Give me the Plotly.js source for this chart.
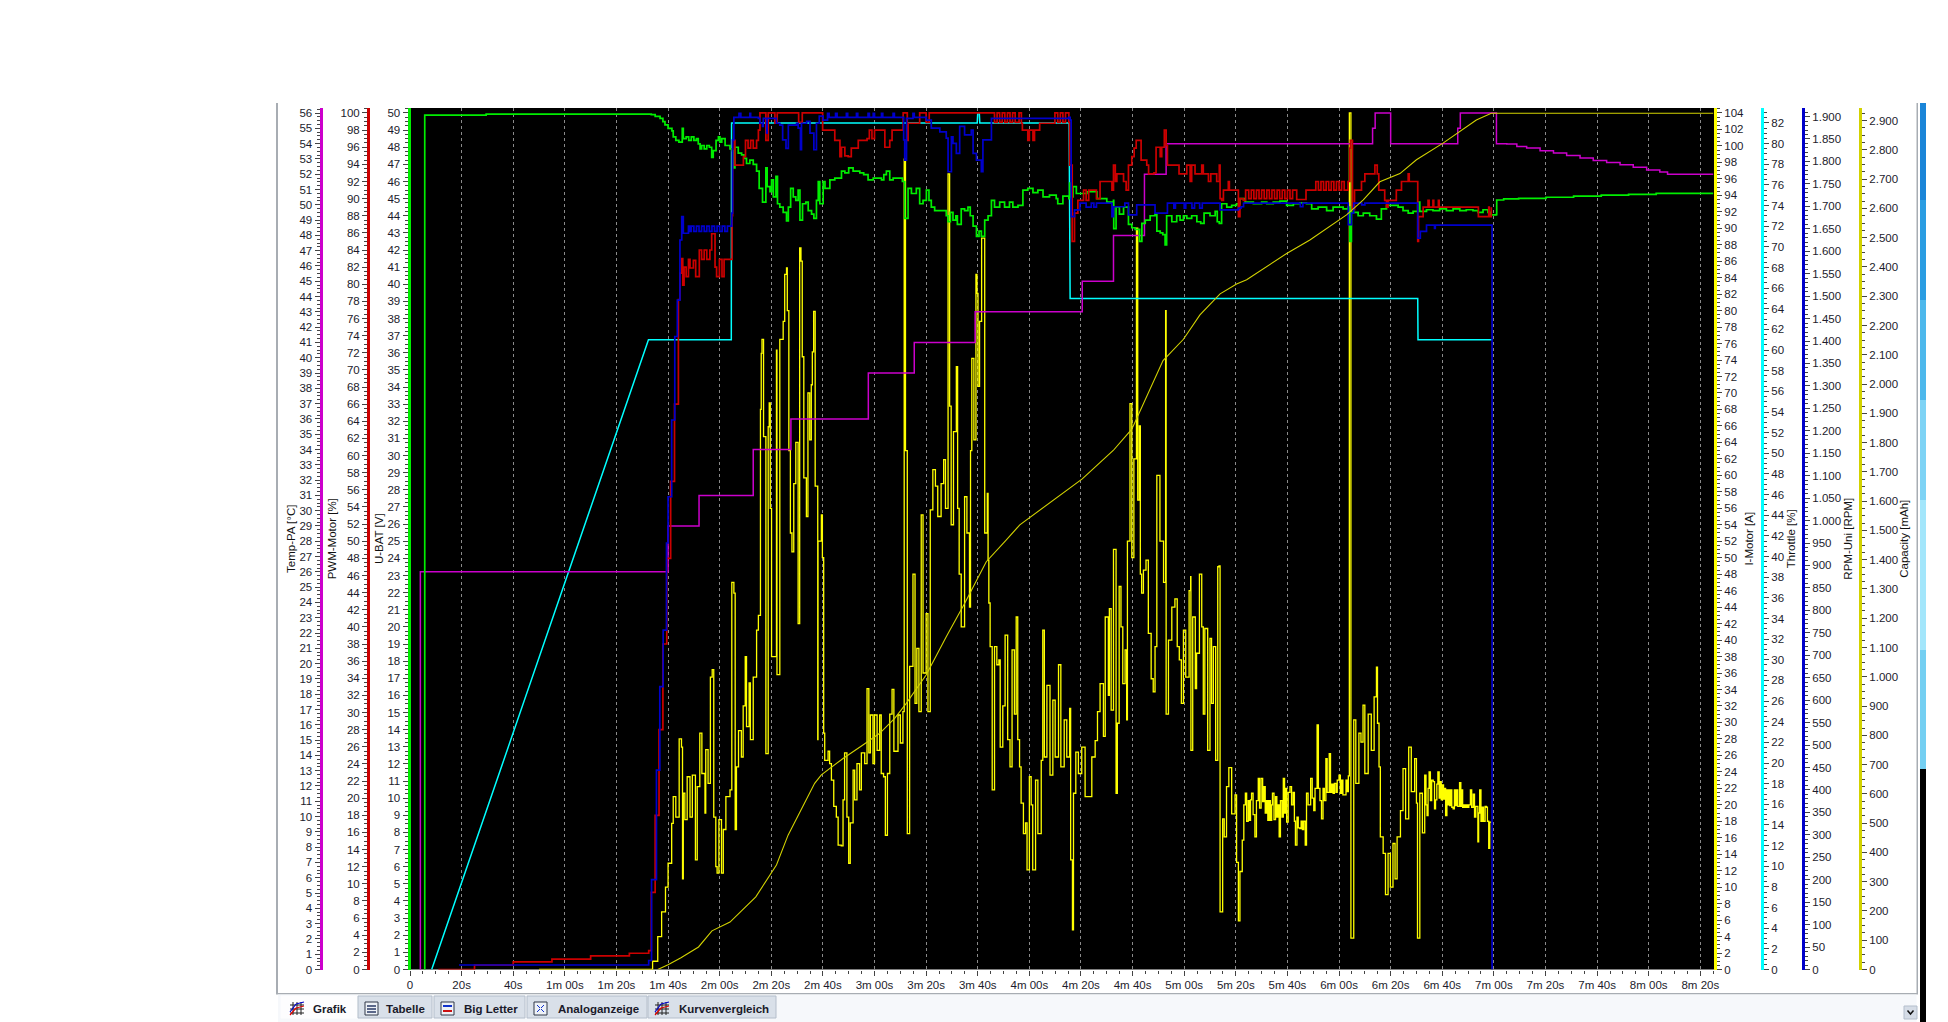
<!DOCTYPE html>
<html><head><meta charset="utf-8">
<script src="https://cdn.plot.ly/plotly-3.0.1.min.js"></script>
<style>html,body{margin:0;padding:0;background:#fff;overflow:hidden}#c{width:1948px;height:1022px}</style>
</head><body><div id="c"></div>
<script>
// ---- values ----
const tempT=[4,4.01,100,112,133,147.6,177.6,195.4,219,260.5,272.6,284.6,293,373,374,380,406,407,421,425,428.9,432.7,437.9,443.1,448.2,453.4,458.5,463.7,468.9,474,479.2,484.3,487.3,505];
const tempV=[0,26,29,31,34,36,39,41,43,45,48,52,54,55,56,54,55,56,54,53.97,53.82,53.71,53.53,53.38,53.23,53.06,52.9,52.77,52.62,52.45,52.27,52.14,52,52];

const throttleT=[8.4,92.4,124.5,124.6,219.8,220,220.6,220.8,255.4,255.8,390.5,390.6,419.5];
const throttleV=[0,61,61,82,82,83,83,82,82,65,65,61,61];

const capT=[96,100,105,111.8,117,124,134,138.8,142,146.5,152.3,156.8,159.4,167.8,175.5,182,187.8,192.3,200,207.8,214.9,223.3,231,236.3,260.5,272.5,279.7,291.8,299.7,306.1,313.9,320.3,324.2,339.7,348.7,362.9,369.4,375.8,383.6,390,400.3,405.5,413.2,419,505];
const capV=[0,16,40,77,132,162,248,315,357,459,556,636,665,721,767,807,858,909,1006,1137,1250,1393,1467,1519,1676,1773,1846,2080,2153,2236,2308,2342,2356,2446,2492,2578,2629,2691,2719,2766,2823,2856,2902,2925,2925];

const batT=[5.7,5.71,29.5,93.5,95,96.9,98,98.8,100,101.5,102,103,104.2,105.5,105.9,107,108,109,110,111,111.7,112.4,113,114,115,116,116.9,117.5,118.6,119.5,120.1,120.8,122.1,124,124.9,125.5,125.9,127.2,128.5,129.4,130.4,131.7,133,134.3,135.3,136.6,137.9,138.4,139.5,140.1,140.8,141.8,142.4,143.3,144.6,145.9,146.6,147.5,148.5,149.5,150.4,151.1,152.1,153.4,154.3,155.6,156.5,157.5,158.2,158.8,160.1,160.8,162.7,164.6,167.2,168.5,170,171.7,174.3,175.8,177.5,179.5,182.7,183.6,184.6,185.9,187.2,190.8,191.7,193,194.3,196.2,197.5,198.8,200.1,201.1,202,203.3,205.9,207.8,208.5,209.4,210.4,211.5,212.1,213.6,214.9,216.2,217.1,218.2,219.5,220.5,221.4,222.7,224,225.3,226.5,228.5,230.4,232.3,233.6,235.6,237.5,239.4,241.4,243.3,245.3,247.8,250.4,251,253,255.3,255.6,256.2,256.9,258.2,259.7,262.3,266.2,268.1,270,272.6,272.7,273.6,274.9,276.5,278.4,279.7,281,282.7,283.6,284.9,286.8,288.7,289.4,290.7,291.7,292.6,293.2,295.2,297.1,298.4,299.7,301,302.9,304.9,306.4,307.7,310,312,312.8,313.6,314.5,316.5,318.4,320.3,321.6,323.6,326.8,330,332,334.5,337.1,339.7,342.3,344.8,347.4,349.4,351.9,355.2,357.7,361.6,363.5,364.2,364.8,367.4,369.4,371.9,374.5,376.4,378.4,381,382.9,384.8,386.8,388.7,390.5,391.3,393.9,396.4,399,401.6,404.2,406.8,409.3,411.9,413.9,415.8,417.7,418.6,421,421.1,423.8,429.6,440.2,450.9,461.6,472.2,482.9,505];
const batV=[0,49.87,49.93,49.9,49.8,49.69,49.5,49.3,49.1,48.95,48.6,48.4,48.3,49.1,48.5,48.6,48.4,48.6,48.4,48.5,48.2,47.9,48.1,47.9,48.1,48,47.4,47.8,48.4,48.6,48.3,48.5,48.1,47.9,47.8,46.8,48,47.65,47.55,47.35,47.05,47.25,47,46.6,45.6,44.8,46.8,45.7,45.4,46.1,45.1,46.3,44.7,44.5,44.2,43.7,44.5,45.6,45.1,44.9,45.5,43.75,44.7,44.8,44.3,44.1,43.85,44.9,46,44.7,46,45.6,46.1,46.2,46.6,46.5,46.8,46.6,46.5,46.4,46.1,46.2,46.1,46.4,46.6,46.1,46.2,46,43.85,45.6,45.3,45.6,44.7,44.9,45.5,44.9,44.5,44.3,44.3,44,43.65,44.2,43.75,44,43.5,44.4,44.3,44.5,44,43.4,42.8,43.1,42.8,43.75,44,44.9,44.5,44.8,44.5,44.8,44.5,44.6,45.5,45.6,45.35,45.5,45.1,45.2,45,44.7,45.15,45,45.9,45.1,45.7,45.3,45.3,45.4,45,45,44.8,44.9,43.25,44.5,44.1,44.5,43.5,43.3,43.2,42.5,43.55,43.75,44,44.1,43.1,43,42.9,42.3,44,43.65,44,43.75,44,43.85,44,43.65,43.55,44.15,44,44.25,43.65,43.55,44.7,44.5,44.6,44.7,45,44.8,44.7,44.8,44.7,44.8,44.85,44.6,44.7,44.75,44.7,44.4,44.5,44.3,44.5,44.4,44.5,42.5,44.2,44,44.15,44,43.8,44.4,44.6,44.6,44.5,44.3,44.15,44.25,44.8,44.25,44.35,44.3,44.4,44.3,44.4,44.3,44.35,44.3,44.2,44.35,44.2,44.05,44.08,44.92,44.98,45.02,45.08,45.14,45.2,45.25,45.31,45.31];

const pwmT=[11,25,40,55,70,85,92.5,93.5,95,96.5,98,99.5,101,102.5,104,104.6,105.3,105.7,106.2,107,107.9,108.5,109.8,110.7,112.1,113,114,115,116.2,116.9,118.2,118.8,119.9,120.9,121.7,124.5,124.8,125,125.9,129.2,130,131,132,133,134.3,135,135.6,137.9,138.8,141.4,142.3,150.4,150.6,152,159,159.9,163.3,164.6,166.6,167.2,168.5,169.8,171,173.7,177.1,178,179,180,182,184,185.9,186.8,190.8,191.1,192.6,192.7,193,197.3,197.5,199.7,200,201.1,201.2,225.9,226.5,227.5,228.5,229.5,230.5,231.5,232.5,233.5,234.5,236,236.9,237.3,239.4,240,241.4,242,244,249.5,249.9,251,252,253,254,255.3,255.6,256.6,257.5,258.8,261,262,263,264.2,266,267.4,271.3,272,272.6,273.3,273.9,275.8,276.5,277.5,278.4,279.7,280.6,281.4,282.7,283.3,285.5,286.2,288.3,289.1,290.7,291.3,292.3,293,293.5,297.8,298,300.3,301,302.3,302.9,304.2,306.8,307.4,309.4,310.3,312,312.6,313.6,313.9,314.5,315.2,317.1,317.5,320.3,321,321.6,322.9,323.8,325,326,327,328,329,330,331,332,333,334,335,336,337,338,339,340,341,342,343.6,346.4,347.2,350,351,352,353,354,355,356,357,358,359,360,361,362,363.5,364.2,364.4,365.2,366,366.8,368.7,370,371.9,373.9,374.8,375.4,377.7,378.4,379,381.6,382.2,384.2,386.8,387.2,390.4,390.5,390.8,392.6,394.5,394.9,396.4,396.7,398.5,398.8,413.8,414,418,418.2,419];
const pwmV=[0,0.5,0.9,1.2,1.6,1.9,2.2,9,18,28,38,48,57,66,78.2,81.3,83,79.9,82,80.9,82.9,81.9,82.8,80.9,84,82.9,84,82.9,84,85.9,82,80.9,82.9,80.9,82.9,82.9,88,96.8,93.9,94.9,96.8,95.9,96.8,95.9,96.8,98,100,96.8,100,98.8,100,100,98.9,100,100,98,98,96.8,94.9,96,95,94.9,95.9,96.8,97,98,97,98,98,96,96.8,98,98,100,100,96.8,98.8,98.8,100,100,98.9,98.9,100,100,98.9,100,98.9,100,98.9,100,98.9,100,98.9,100,98.8,98,96.8,98,96.8,98,98.8,98.8,100,98.9,100,98.9,100,98.9,93.9,85,88.3,89.8,91,89.8,91,91,90,92,92,91,93.9,92,92.9,92.9,92,91,93.9,94.9,95.9,96.8,96.8,94.5,93.9,92.9,93,96,94.9,96,98,96.2,93.9,93.9,92.9,92.9,93.9,92,93.9,92.9,93.9,92.9,92,92.9,92.9,92,93.9,90,89.8,91,92,91,91,87.9,90,89.8,91,90,91,90,91,90,91,90,91,90,91,90,91,90,91,90,91,90,91,89.9,89.9,91,91,92,91,92,91,92,91,92,91,92,91,92,91,92,95.9,96.8,88.7,91,91,92,92.9,92.9,93.9,92.9,91,89.8,89,89.8,89.8,91,92,92.9,92,92,85,87.9,89,89.8,89,89.8,89,89.8,89,89,87.9,89,87.9,89];

const rpmPts=[[19,10],[92.5,20],[93.6,200],[95.5,444],[96.8,630],[98.1,756],[99.4,950],[100,1053],[101.4,1224],[102.6,1410],[103.6,1491],[104.6,1625],[105.3,1677],[105.9,1640],[107.9,1656],[108.5,1644],[109,1656],[110,1644],[111,1656],[112,1644],[113,1656],[114,1644],[115,1656],[116,1644],[117,1656],[118,1644],[119,1656],[120,1644],[121,1656],[122,1644],[123,1656],[124.5,1656],[124.7,1685],[125,1848],[125.5,1898],[127.5,1907],[128.2,1898],[131.7,1907],[132,1898],[135,1896],[135.6,1885],[136.6,1878],[136.9,1896],[138.2,1863],[138.4,1896],[141.4,1896],[142,1885],[143.3,1881],[144.4,1848],[145.7,1829],[146.6,1881],[149.8,1885],[150.4,1874],[151.3,1826],[151.7,1885],[153.7,1889],[155,1863],[156.5,1826],[157.5,1885],[158.6,1901],[160.1,1892],[161.8,1907],[162.4,1898],[164.9,1907],[165.5,1898],[169.1,1907],[169.6,1898],[173,1907],[173.5,1898],[177.5,1907],[178,1898],[179.5,1907],[180,1898],[182.7,1907],[183.2,1898],[187.2,1907],[187.7,1898],[190.8,1898],[191.3,1848],[191.7,1803],[192.4,1896],[194.9,1907],[195.4,1898],[200.1,1892],[202,1874],[205.3,1866],[207.8,1852],[208.5,1777],[209.8,1855],[210.4,1840],[211.7,1818],[213,1878],[214.9,1859],[217.5,1870],[218.2,1818],[219.5,1803],[221.4,1777],[222,1848],[224,1848],[225.3,1896],[255.3,1898],[255.8,1892],[256.2,1677],[257.5,1692],[259.6,1707],[262,1698],[264,1707],[265,1698],[266,1707],[272,1677],[272.6,1699],[277,1707],[278.4,1681],[281.6,1703],[288.7,1685],[293.5,1707],[296,1696],[296.6,1707],[300,1696],[300.6,1707],[303,1696],[304,1707],[306,1696],[307,1707],[310,1707],[313.9,1692],[321,1696],[322,1699],[323,1707],[345,1699],[346,1707],[363.5,1707],[363.6,1659],[364.8,1685],[365.7,1707],[368.8,1703],[370,1707],[390.4,1707],[390.5,1629],[391.5,1644],[393.9,1658],[397,1651],[397.3,1658],[419,1658],[419.3,0]];

const curHeadT=[50,92.5,94,96,97.5,99,100,101.4,102,103,104.3,105.2,105.6,105.9,106.5,107.4,108.5,109.4,110.6,111.3,112.3,113.1,114.3,114.6,115.5,116.4,117.1,117.7,118.5,119,119.7,120.7,121.4,122.4,124,124.7,125.5,126,126.5,127.3,128.4,129.1,129.9,130.4,131.4,131.9,133,134.3,135,135.8,136.1,136.4,137,137.9,138.8,139.2,139.6,140.1,142,142.2,143.3,144.6,145.2,145.9,146.2,146.8,147.4,148,148.7,149.5,150.4,151,151.5,152,152.6,153.6,154.2,154.9,155.5,155.9,156.4,157,158,158.1,159.4,159.8,160.3,160.7,162,162.6,163.3,164.2,165.2,165.9,167.1,167.8,168.4,169.3,170,170.6,171.7,172.3,173.2,174.2,174.9,176.2,177.1,177.8,178.4,179.4,180,181,182,182.6,183.5,184.2,185,185.9,186.8,187.5,189.1,190,191,191.5,192,192.7,193.6,194.9,195.7,196.4,197.2,198.1,198.8,200,200.7,201.6,202.6,203.6,204.5,205.8,206.8,207.5,208.5,209.1,209.7,210.6,211.7,212.2,212.8,213.6,214.9,215.8,216.8,217.2,217.7,218.5,219.3,219.7,220.1,220.7,221.5,222.7,223.7,224,224.3,224.8,225.6,226.5,227.4,228.2,228.7,229.7,230.6,231.6,232.5,233.3,234.2,234.9,235.5,236.2,236.8,237.7,238.5,239.1,240,240.7,241.3,242.4,243.3,244.6,245.2,245.8,246.8,248,249.1,250,251.3,252.2,253.5,254.5,255.6,256,256.7,257.1,258,259,260.3,261.6,263.3,264.2,265.5,266.4,267.4,268.7,269.4,270.6,271,271.7,272.6,273.6,274.1,274.8,275.5,276.2,277.1,277.7,278,279,279.7,280.5,281.5,282,282.6,283,283.5,284.2,285.2,286.1,287.2,288,288.7,289.4,290.6,292,292.8,293,293.9,295.2,296.4,297.3,298.1,298.9,299.7,300.6,301.9,302.5,302.6,303.3,304.3,304.8,305.9,306.8,307.4,308,309.1,310,310.6,311.3,312.2,313,313.5,313.9,314.9,315.5,316.4,317.3,318.4,319.7,320.3,321,321.6];
const curHeadA=[0,0,1,4,7,10,12.9,17.75,21,18.5,28,27,11,21.4,18.2,23.4,18.5,23.6,13.3,22.2,28.7,23.8,19,26.7,22.6,35.5,36.4,18.5,12.5,11.7,18.2,11.7,17,21,21.8,47,45.7,17,24.6,29,25.8,32,38,29.5,34.8,27.9,35.5,41.2,43,68,74.8,76.5,64.7,26.2,65.9,68.8,56,38,75.2,35.8,76.5,78.7,84.4,85.2,80,63,53,50.7,59,64,42,87.6,86,74.4,59.7,55,70,64.3,71,75,79.9,58.7,27.9,52,55.2,50,28.7,25.4,26.5,25,23,19.8,18.5,15.1,15,20.6,26.3,18.5,12.9,17.8,24.2,20.6,25,21.8,26.3,25,34.1,26.3,30.9,25,30.9,26.6,30.9,23.8,23.4,16.3,23.8,31,34,26.5,30.9,27.5,31.3,98.4,63,16.5,36.8,48,32.3,39,31.3,55.2,36,43.2,31.3,55.8,60.7,58.7,55,59,61.9,56,96.6,68.4,54,65.3,73.2,56,48,41.6,57.4,53,44,63,74.2,64.3,84.4,82.1,70.8,78.7,88.8,53,57.8,49.7,44.5,39.2,21.8,39.2,37,37.6,27,32,40.6,27.9,24.6,38.8,31,42.8,27.9,24.6,20.2,16.5,17.8,12.1,23.4,20,12.1,23,16.5,25.4,41.2,25.8,34.5,23.6,32.7,25.8,37,24.6,30.3,25.8,31.7,13.3,4.8,21.4,26.4,23.8,27,21,21,25.8,27.8,31.3,34.7,28.3,42.8,33.3,43.8,31.5,51,21.4,29.9,46.5,41.6,34.7,38.8,30.3,52,68.7,50,62,90,57,66,48,45.7,48.5,49.7,40.8,35.3,33.7,39.2,60,52,47,80,31,40,44,45,39.2,37.6,32.3,41.2,35.5,46,47.7,26.6,42.8,34.1,38.4,48,41.6,31,41.4,26.6,40.2,32.3,39.2,25.4,48.9,49,7,18.3,16.1,22.2,24.5,18.9,21.2,13,5.9,11.9];
const curBandA=[[322.5,15.7],[323.1,20],[323.7,21.4],[324.2,18],[324.8,20.5],[325.2,18.1],[325.7,20.6],[326.1,21.4],[326.7,18.8],[327.4,16.1],[328,20.5],[328.7,23.2],[329.2,19.6],[329.8,23.2],[330.4,20.4],[330.9,22.2],[331.4,19],[331.9,20.5],[332.4,18.1],[332.9,20.5],[333.4,18.1],[333.9,20],[334.2,21.4],[334.8,18.2],[335.4,21],[335.9,18.5],[336.4,20],[336.8,16.1],[337.3,20.5],[337.9,18.5],[338.4,23.2],[338.9,19],[339.3,22],[339.7,17.9],[340.3,21.5],[341,22.2],[341.6,20],[342.2,21.5],[342.7,18],[343.1,15.1],[343.7,18.5],[344.2,17.2],[344.8,17.1],[345.3,18],[345.8,17],[346.3,18],[346.9,15.1],[347.4,21.4],[348,20],[349,23.2],[349.6,20.8],[350.2,19.3],[350.7,22],[351.5,29.7],[352,22],[352.6,20.5],[353.2,18.3],[353.8,22],[354.3,20.5],[354.9,25.6],[355.4,21.5],[356.2,26.2],[356.7,21.5],[357.2,22.5],[357.7,21.4],[358.2,22.6],[358.8,21.5],[359.3,23],[360,23.6],[360.5,21.4],[361,23],[361.5,21.2],[362.2,21.2],[362.7,23],[363.2,21.6],[363.6,23.5]];
const curMidT=[364,364.6,365.7,366.5,367.7,368.5,369.3,370,371.3,372.5,373.6,374.5,374.9,375.5,376,377.1,378,379,379.9,380.9,381.7,382.5,383.8,384.8,385.8,387,388,389.3,390,390.4,391.3,392.3];
const curMidA=[104,3.8,30.3,22.6,28.7,27.6,32.1,23.8,31,26.6,33.1,36.7,29.9,24.6,16.1,14.1,9.1,14.1,10,15.3,11,16.1,19.3,24.4,18.3,27,21.6,25.6,20.2,3.8,21.4,16.6];
const curBandB=[[393.2,23.6],[393.7,20],[394.1,18.7],[394.5,22],[394.9,24],[395.4,20.5],[395.9,23],[396.5,22.8],[397,19.5],[397.4,20.6],[397.9,22.5],[398.3,24],[398.8,20.8],[399.2,22.8],[399.6,20.6],[400.1,22.4],[400.5,20.7],[401,22],[401.3,18.7],[401.8,21.8],[402.2,20],[402.5,21.8],[402.9,19.9],[403.3,21.8],[403.7,19.7],[404.2,19.5],[404.7,21.8],[405.1,19.9],[405.5,21.8],[406,19.8],[406.7,22.7],[407.2,19.8],[407.6,21.8],[407.9,19.7],[408.4,20],[408.8,19.7],[409.3,20],[409.8,19.7],[410.3,20],[410.9,21.8],[411.4,19.7],[412,21.3],[412.5,18.5],[413,19.8],[413.8,15.5],[414.1,19],[414.5,21.8],[415,18],[415.5,19.7],[416,18],[416.6,19.8],[417.1,19.7],[417.5,18],[418,14.7],[418.4,17.9],[419,17.9]];

const tickSeconds=[0,20,40,60,80,100,120,140,160,180,200,220,240,260,280,300,320,340,360,380,400,420,440,460,480,500];
const tickLabels=['0','20s','40s','1m 00s','1m 20s','1m 40s','2m 00s','2m 20s','2m 40s','3m 00s','3m 20s','3m 40s','4m 00s','4m 20s','4m 40s','5m 00s','5m 20s','5m 40s','6m 00s','6m 20s','6m 40s','7m 00s','7m 20s','7m 40s','8m 00s','8m 20s'];
const tabNames=['Grafik','Tabelle','Big Letter','Analoganzeige','Kurvenvergleich'];
const tabCenters=[330,405,491,598,724];
const tabLeft=[281,358,434,527,648];
const tabRight=[357,432,525,647,776];

const curT=curHeadT.concat(curBandA.map(p=>p[0]),curMidT,curBandB.map(p=>p[0]));
const curA=curHeadA.concat(curBandA.map(p=>p[1]),curMidA,curBandB.map(p=>p[1]));

// ---- colours ----
const MAG='#cc00cc',RED='#cc0000',GRN='#00ee00',YEL='#ffff00',CYA='#00ffff',BLU='#0000cc',DYL='#d2d200';
const W=1948,H=1022;
const X=x=>x/W, Y=y=>1-y/H;
const FONT='"Liberation Sans",Arial,sans-serif';
const tf={family:FONT,size:11.5,color:'#1c1c2c'};

function ax(o){
  return Object.assign({
    tickmode:'linear',tick0:0,ticks:'outside',ticklen:5,tickwidth:1,tickcolor:'#444',
    showgrid:false,zeroline:false,showline:true,linewidth:3,tickfont:tf,
    automargin:false,fixedrange:true
  },o);
}
function ttl(text,standoff){return {text:text,font:{family:FONT,size:11.5,color:'#111'},standoff:standoff};}
function minor(d){return {dtick:d,ticks:'outside',ticklen:3,tickwidth:1,tickcolor:'#444'};}

const dom=[Y(969.5),Y(108)];
const layout={
  width:W,height:H,margin:{l:0,r:0,t:0,b:0,pad:0},paper_bgcolor:'#fff',plot_bgcolor:'#000',
  showlegend:false,separators:',.',hovermode:false,
  xaxis:{domain:[X(409),X(1714)],range:[-0.39,505.3],tickmode:'array',tickvals:tickSeconds,ticktext:tickLabels,
    ticks:'outside',ticklen:5,tickcolor:'#444',tickfont:tf,showgrid:true,gridcolor:'#8a8a8a',griddash:'3px,3px',gridwidth:1,
    zeroline:false,showline:false,anchor:'y',fixedrange:true,minor:{dtick:5,tick0:0,ticks:'outside',ticklen:3,tickcolor:'#444'}},
  yaxis:ax({domain:dom,range:[0,104.6],dtick:2,side:'right',anchor:'x',linecolor:YEL,minor:minor(0.5),title:ttl('I-Motor [A]',2)}),
  yaxis2:ax({domain:dom,range:[0,83.45],dtick:2,side:'right',anchor:'free',position:X(1762),overlaying:'y',linecolor:CYA,minor:minor(0.5),title:ttl('Throttle [%]',3)}),
  yaxis3:ax({domain:dom,range:[0,56.33],dtick:1,side:'left',anchor:'free',position:X(320.5),overlaying:'y',linecolor:MAG,minor:minor(0.25),title:ttl('Temp-PA [°C]',0)}),
  yaxis4:ax({domain:dom,range:[0,50.29],dtick:1,side:'left',anchor:'free',position:X(408.5),overlaying:'y',linecolor:GRN,minor:minor(0.25),title:ttl('U-BAT [V]',0)}),
  yaxis5:ax({domain:dom,range:[0,100.58],dtick:2,side:'left',anchor:'free',position:X(368),overlaying:'y',linecolor:RED,minor:minor(0.5),title:ttl('PWM-Motor [%]',0)}),
  yaxis6:ax({domain:dom,range:[0,1919],dtick:50,tickformat:',d',side:'right',anchor:'free',position:X(1803),overlaying:'y',linecolor:BLU,minor:minor(10),title:ttl('RPM-Uni [RPM]',3)}),
  yaxis7:ax({domain:dom,range:[0,2943],dtick:100,tickformat:',d',side:'right',anchor:'free',position:X(1860),overlaying:'y',linecolor:DYL,minor:minor(25),title:ttl('Capacity [mAh]',2)}),
  shapes:[],annotations:[]
};

// window frame
const frame=[
 [276,103,278,993,'#a8adb3'],[276,993,1918,994.5,'#a8adb3'],[1916.5,103,1918,994,'#a8adb3'],
 [278,994.5,1916.5,1022,'#f6f8fb'],
 [1920,103,1926,200,'#1a85d8'],[1920,200,1926,300,'#2a9de2'],[1920,300,1926,400,'#4db8ec'],
 [1920,400,1926,500,'#7ed3f5'],[1920,500,1926,650,'#a3e6fb'],[1920,650,1926,769,'#74cff2'],
 [1920,769,1926,1022,'#000000']
];
frame.forEach(f=>layout.shapes.push({type:'rect',xref:'paper',yref:'paper',x0:X(f[0]),x1:X(f[2]),y0:Y(f[1]),y1:Y(f[3]),fillcolor:f[4],line:{width:0},layer:'below'}));
function seg(x0,y0,x1,y1,c,w){layout.shapes.push({type:'line',xref:'paper',yref:'paper',x0:X(x0),x1:X(x1),y0:Y(y0),y1:Y(y1),line:{width:w||1,color:c},layer:'above'});}
tabNames.forEach((n,i)=>{
  layout.shapes.push({type:'rect',xref:'paper',yref:'paper',x0:X(tabLeft[i]),x1:X(tabRight[i]),y0:Y(996),y1:Y(1018),
    fillcolor:i===0?'#fdfdfe':'#d9e0e9',line:{width:1,color:i===0?'#fdfdfe':'#b4becb'},layer:'below'});
  layout.annotations.push({xref:'paper',yref:'paper',x:X(tabCenters[i]),y:Y(1008.5),text:n,showarrow:false,xanchor:'center',yanchor:'middle',
    font:{family:FONT,size:11.5,color:'#1a1a2a',weight:700}});
  const ix=tabLeft[i]+(i===0?9:7), iy=1002;
  if(i===0||i===4){
    [3,7,11].forEach(d=>{seg(ix+d,iy,ix+d,iy+13,'#222');seg(ix,iy+d,ix+14,iy+d,'#222');});
    seg(ix,iy+13,ix+6,iy+6,'#dd0000',1.2);seg(ix+6,iy+6,ix+14,iy+4,'#dd0000',1.2);seg(ix,iy+10,ix+6,iy+2,'#0000cc',1.2);seg(ix+6,iy+2,ix+14,iy,'#0000cc',1.2);
  } else {
    layout.shapes.push({type:'rect',xref:'paper',yref:'paper',x0:X(ix),x1:X(ix+13),y0:Y(iy),y1:Y(iy+13),fillcolor:'#eef2f7',line:{width:1,color:'#303848'},layer:'above'});
    if(i===1){[3,6,9].forEach(d=>seg(ix+2,iy+d+1,ix+11,iy+d+1,'#2a3a66',1.5));}
    if(i===2){seg(ix+2,iy+4,ix+11,iy+4,'#1133cc',2);seg(ix+2,iy+9,ix+11,iy+9,'#cc1111',2);}
    if(i===3){seg(ix+3,iy+3,ix+6,iy+6,'#1133cc',1);seg(ix+10,iy+3,ix+7,iy+6,'#1133cc',1);seg(ix+3,iy+10,ix+6,iy+7,'#1133cc',1);seg(ix+10,iy+10,ix+7,iy+7,'#1133cc',1);}
  }
});
layout.shapes.push({type:'rect',xref:'paper',yref:'paper',x0:X(1904),x1:X(1917),y0:Y(1006),y1:Y(1019),fillcolor:'#d5dce6',line:{width:1,color:'#b4becb'},layer:'below'});
layout.shapes.push({type:'path',xref:'paper',yref:'paper',path:`M${X(1907.5)},${Y(1010.5)} L${X(1910.5)},${Y(1014)} L${X(1913.5)},${Y(1010.5)}`,line:{width:1.5,color:'#111'},layer:'above'});

const traces=[
 {x:curT,y:curA,yaxis:'y',line:{color:YEL,width:1.3,shape:'hv'}},
 {x:throttleT,y:throttleV,yaxis:'y2',line:{color:CYA,width:1.5}},
 {x:tempT,y:tempV,yaxis:'y3',line:{color:MAG,width:1.5,shape:'hv'}},
 {x:batT,y:batV,yaxis:'y4',line:{color:GRN,width:1.7,shape:'hv'}},
 {x:pwmT,y:pwmV,yaxis:'y5',line:{color:RED,width:1.7,shape:'hv'}},
 {x:rpmPts.map(p=>p[0]),y:rpmPts.map(p=>p[1]),yaxis:'y6',line:{color:BLU,width:1.7,shape:'hv'}},
 {x:capT,y:capV,yaxis:'y7',line:{color:DYL,width:1.1}}
].map(t=>Object.assign({type:'scatter',mode:'lines',xaxis:'x',hoverinfo:'skip'},t));
Plotly.newPlot('c',traces,layout,{displayModeBar:false,staticPlot:true});
</script></body></html>
